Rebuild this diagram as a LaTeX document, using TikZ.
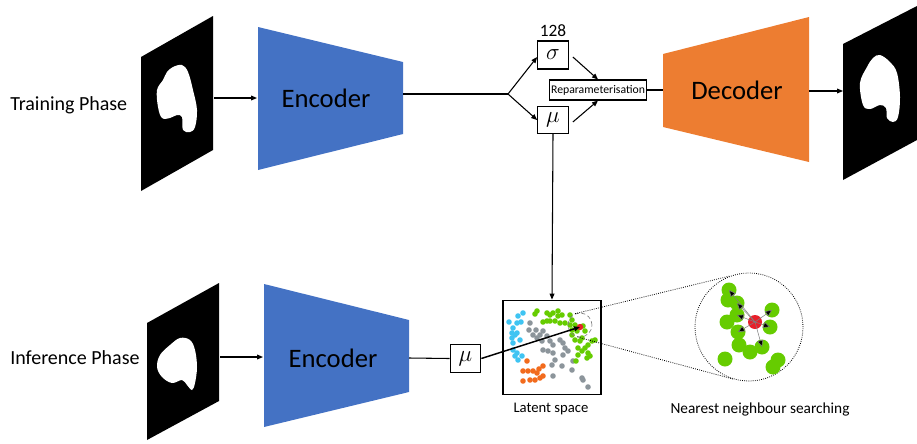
\documentclass[tikz,border=0pt]{standalone}
\usepackage{fontspec}
\setmainfont{Carlito}
\usetikzlibrary{arrows.meta}
\definecolor{encb}{HTML}{4472C4}
\definecolor{deco}{HTML}{ED7D31}
\definecolor{ptgr}{HTML}{66CC00}
\definecolor{ptcy}{HTML}{3FC4F2}
\definecolor{ptgy}{HTML}{8C959B}
\definecolor{ptor}{HTML}{F26B1D}
\definecolor{ptrd}{HTML}{E8202A}
\tikzset{
    arr/.style={-{Triangle[length=4.5pt,width=3.6pt]},line width=0.8pt},
    phase/.style={font=\fontsize{15}{18}\selectfont,anchor=west,inner sep=0pt},
    blk/.style={font=\fontsize{20}{24}\selectfont,inner sep=0pt},
    vbox/.style={draw,line width=0.8pt,minimum width=23pt,minimum height=21pt,inner sep=0pt,font=\fontsize{16}{18}\selectfont},
    capt/.style={font=\fontsize{11}{13}\selectfont,inner sep=0pt},
    gdot/.style={circle,fill=ptgr,inner sep=0pt,minimum size=11.25pt},
    nnarr/.style={-{Triangle[length=4pt,width=3.5pt]},gray,line width=0.4pt}
}
\begin{document}
\begin{tikzpicture}[x=0.75pt,y=-0.75pt]
    \useasboundingbox (0,0) rectangle (917,443);
    % training phase
    \node[phase] (tp) at (10,105) {Training Phase};
    \fill (141,57) -- (213,16) -- (213,150) -- (141,191) -- cycle;
    \fill[white] plot[smooth cycle,tension=0.6] coordinates {(173,67) (182,65) (188,72) (193,90) (197,110) (195,127) (190,132) (183,130) (182,117) (177,115) (170,118) (162,118) (158,107) (157,90) (163,80) (167,72)};
    \coordinate (in1e) at (214,98);
    \fill[encb] (258,27) -- (403,62) -- (403,134) -- (258,170) -- cycle;
    \node[blk] (enc1) at (326,98) {Encoder};
    \coordinate (enc1w) at (257,98);
    \coordinate (enc1e) at (403,94);
    \draw[arr] (in1e) -- (enc1w);
    \coordinate (br) at (508,94);
    \draw[line width=0.8pt] (enc1e) -- (br);
    \node[vbox] (sig) at (553,55) {$\sigma$};
    \node[font=\fontsize{13}{15}\selectfont,inner sep=0pt] (dim) at (553,31) {128};
    \node[vbox,minimum height=20pt] (mu1) at (553,120) {$\mu$};
    \draw[arr] (br) -- ([yshift=-1.5pt]sig.west);
    \draw[arr] (br) -- (mu1.west);
    \node[draw,line width=0.8pt,inner sep=1.5pt,minimum height=15pt,font=\fontsize{8.8}{10}\selectfont] (rep) at (598,90) {Reparameterisation};
    \draw[arr] ([xshift=3pt,yshift=-1.5pt]sig.east) -- (rep.north);
    \draw[arr] ([xshift=3pt,yshift=-1.5pt]mu1.east) -- (rep.south);
    \fill[deco] (663,54) -- (809,17) -- (809,162) -- (663,127) -- cycle;
    \node[blk] (dec) at (737,90) {Decoder};
    \coordinate (decw) at (663,90);
    \coordinate (dece) at (809,91);
    \draw[line width=0.8pt] (rep.east) -- (decw);
    \fill (843,44) -- (917,6) -- (917,140) -- (843,180) -- cycle;
    \fill[white] plot[smooth cycle,tension=0.6] coordinates {(880,55) (890,62) (897,73) (900,97) (898,117) (893,122) (887,118) (886,108) (880,105) (870,109) (863,105) (860,83) (867,67) (873,58)};
    \coordinate (out1w) at (843,91);
    \draw[arr] (dece) -- (out1w);
    % inference phase
    \node[phase] (ip) at (10,358) {Inference Phase};
    \fill (147,323) -- (219,283) -- (219,401) -- (147,440) -- cycle;
    \fill[white] plot[smooth cycle,tension=0.6] coordinates {(180,338) (190,340) (195,350) (197,367) (195,383) (192,390) (187,385) (182,380) (172,383) (162,377) (157,367) (160,355) (170,345)};
    \coordinate (in2e) at (220,357);
    \fill[encb] (264,284) -- (409,320) -- (409,392) -- (264,427) -- cycle;
    \node[blk] (enc2) at (333,358) {Encoder};
    \coordinate (enc2w) at (263,357);
    \coordinate (enc2e) at (409,358);
    \draw[arr] (in2e) -- (enc2w);
    \node[vbox,minimum height=21.5pt] (mu2) at (465.5,358.5) {$\mu$};
    \draw[line width=0.8pt] (enc2e) -- (mu2.west);
    % latent space
    \node[draw,line width=0.8pt,minimum width=73.5pt,minimum height=71pt,inner sep=0pt] (lat) at (552,347.5) {};
    \node[capt] (latl) at (551,409) {Latent space};
    \draw[arr] (mu1.south) -- (lat.north);
    \foreach \x/\y in {523/313,518/316,509/322,517/323,521/322,513/328,512/333,515/335,517/333,520/340,513/343,513/350,515/356,518/360,522/356,517/353,512/338}
        \fill[ptcy] (\x,\y) circle (2.1pt);
    \foreach \x/\y in {527/361,543/366,539/369,523/371,528/371,533/371,537/373,543/376,540/378,535/380,530/380,523/381}
        \fill[ptor] (\x,\y) circle (2.1pt);
    \foreach \x/\y in {530/323,529/330,536/330,533/335,540/335,543/331,547/336,537/338,542/341,550/341,553/345,560/340,563/343,543/350,548/351,565/348,568/351,553/353,563/355,555/360,552/365,572/370,562/366,553/376,582/378,583/380,588/387,573/361}
        \fill[ptgy] (\x,\y) circle (2.1pt);
    \foreach \x/\y in {537/311,535/314,547/313,550/315,553/313,558/311,562/315,558/316,555/321,560/323,543/322,547/321,550/321,565/323,570/315,572/320,570/325,575/325,572/330,577/331,583/326,585/331,572/335,575/340,580/341,585/348,588/345,592/341,595/340,582/351,578/355,576/361,588/353,590/356,587/358,578/348,582/338}
        \fill[ptgr] (\x,\y) circle (2.1pt);
    \node[circle,fill=ptrd,inner sep=0pt,minimum size=4.8pt] (qp) at (580,327) {};
    \node[circle,draw=gray,densely dashed,line width=0.5pt,minimum size=18pt,inner sep=0pt] (zc) at (580,325) {};
    \draw[arr,line width=1.1pt] (mu2.east) -- (qp.center);
    % nearest neighbours
    \node[circle,draw,densely dotted,line width=0.6pt,minimum size=81pt,inner sep=0pt] (bc) at (749,327) {};
    \draw[densely dotted,line width=0.6pt] (zc.113) -- (bc.110);
    \draw[densely dotted,line width=0.6pt] (zc.-101) -- (bc.-107);
    \foreach \x/\y [count=\i] in {729/290,728/300,737/303,737/315,727/322,738/332,739/345,750/352,762/347,772/310,770/327,725/359,778/360,773/367}
        \node[gdot] (g\i) at (\x,\y) {};
    \node[circle,fill=ptrd,inner sep=0pt,minimum size=10.5pt] (rd) at (755,322) {};
    \foreach \i in {1,3,4,6,9,10,11}
        \draw[nnarr,-{Triangle[length=5pt,width=4.5pt,fill=black]}] (rd.center) -- (g\i.center);
    \node[capt,font=\fontsize{11.5}{13}\selectfont] (nnl) at (760,409) {Nearest neighbour searching};
\end{tikzpicture}
\end{document}
